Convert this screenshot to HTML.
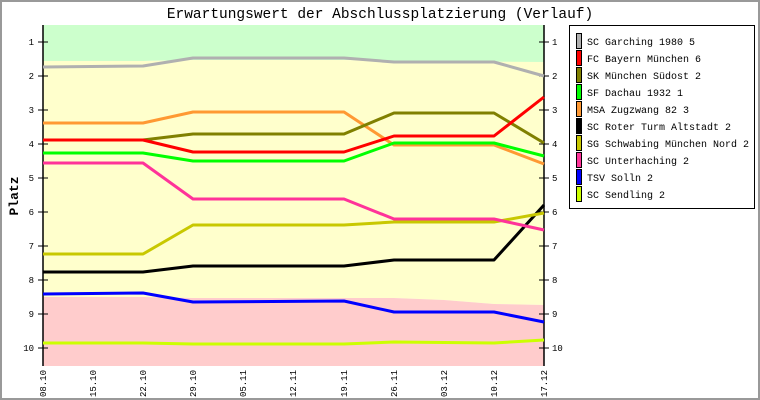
<!DOCTYPE html>
<html><head><meta charset="utf-8"><style>
html,body{margin:0;padding:0;background:#fff;}
svg{display:block;}
text{font-family:"Liberation Mono","DejaVu Sans Mono",monospace;}
</style></head><body>
<svg width="760" height="400" viewBox="0 0 760 400" xmlns="http://www.w3.org/2000/svg">
<rect x="1" y="1" width="758" height="398" fill="#fff" stroke="#999" stroke-width="2"/>
<text x="380" y="18" text-anchor="middle" font-size="14.5">Erwartungswert der Abschlussplatzierung (Verlauf)</text>
<polygon points="43,25 544,25 544,62 494,62 444,62 394,61 344,60 193,60 143,61 43,61" fill="#ccffcc"/>
<polygon points="43,61 143,61 193,60 344,60 394,61 544,62 544,305 494,304 444,300 394,298 344,298 193,298 143,297 43,297" fill="#ffffcc"/>
<polygon points="43,297 143,297 193,298 344,298 394,298 444,300 494,304 544,305 544,366 43,366" fill="#ffcccc"/>
<line x1="43" y1="25" x2="43" y2="366" stroke="#000" stroke-width="1.5"/>
<line x1="544" y1="25" x2="544" y2="366" stroke="#000" stroke-width="1.5"/>
<g stroke="#000" stroke-width="1">
<path d="M38,42H48M38,76H48M38,110H48M38,144H48M38,178H48M38,212H48M38,246H48M38,280H48M38,314H48M38,348H48"/>
<path d="M539,42H549M539,76H549M539,110H549M539,144H549M539,178H549M539,212H549M539,246H549M539,280H549M539,314H549M539,348H549"/>
</g>
<g font-size="9" text-anchor="end">
<text x="34" y="45">1</text><text x="34" y="79">2</text><text x="34" y="113">3</text><text x="34" y="147">4</text><text x="34" y="181">5</text><text x="34" y="215">6</text><text x="34" y="249">7</text><text x="34" y="283">8</text><text x="34" y="317">9</text><text x="34" y="351">10</text>
</g>
<g font-size="9" text-anchor="start">
<text x="552" y="45">1</text><text x="552" y="79">2</text><text x="552" y="113">3</text><text x="552" y="147">4</text><text x="552" y="181">5</text><text x="552" y="215">6</text><text x="552" y="249">7</text><text x="552" y="283">8</text><text x="552" y="317">9</text><text x="552" y="351">10</text>
</g>
<text transform="translate(18,196) rotate(-90)" text-anchor="middle" font-size="13" font-weight="bold">Platz</text>
<g font-size="9" text-anchor="end">
<text transform="translate(46,370) rotate(-90)">08.10</text>
<text transform="translate(96,370) rotate(-90)">15.10</text>
<text transform="translate(146,370) rotate(-90)">22.10</text>
<text transform="translate(196,370) rotate(-90)">29.10</text>
<text transform="translate(246,370) rotate(-90)">05.11</text>
<text transform="translate(296,370) rotate(-90)">12.11</text>
<text transform="translate(347,370) rotate(-90)">19.11</text>
<text transform="translate(397,370) rotate(-90)">26.11</text>
<text transform="translate(447,370) rotate(-90)">03.12</text>
<text transform="translate(497,370) rotate(-90)">10.12</text>
<text transform="translate(547,370) rotate(-90)">17.12</text>
</g>
<g fill="none" stroke-width="3" stroke-linejoin="round">
<polyline stroke="#b0b0b0" points="43,67 143,66 193,58 344,58 394,62 494,62 544,76"/>
<polyline stroke="#ccff00" points="43,343 143,343 193,344 344,344 394,342 494,343 544,340"/>
<polyline stroke="#0000ff" points="43,294 143,293 193,302 344,301 394,312 494,312 544,322"/>
<polyline stroke="#000000" points="43,272 143,272 193,266 344,266 394,260 494,260 544,205"/>
<polyline stroke="#c8c800" points="43,254 143,254 193,225 344,225 394,222 494,222 544,213"/>
<polyline stroke="#ff3399" points="43,163 143,163 193,199 344,199 394,219 494,219 544,230"/>
<polyline stroke="#ff9933" points="43,123 143,123 193,112 344,112 394,145 494,145 544,164"/>
<polyline stroke="#00ff00" points="43,153 143,153 193,161 344,161 394,143 494,143 544,156"/>
<polyline stroke="#808000" points="43,140 143,140 193,134 344,134 394,113 494,113 544,143"/>
<polyline stroke="#ff0000" points="43,140 143,140 193,152 344,152 394,136 494,136 544,97"/>
</g>
<rect x="569.5" y="25.5" width="185" height="183" fill="#fff" stroke="#000"/>
<g stroke="#000" stroke-width="1">
<rect x="576.5" y="33.5" width="5" height="15" fill="#b0b0b0"/>
<rect x="576.5" y="50.5" width="5" height="15" fill="#ff0000"/>
<rect x="576.5" y="67.5" width="5" height="15" fill="#808000"/>
<rect x="576.5" y="84.5" width="5" height="15" fill="#00ff00"/>
<rect x="576.5" y="101.5" width="5" height="15" fill="#ff9933"/>
<rect x="576.5" y="118.5" width="5" height="15" fill="#000000"/>
<rect x="576.5" y="135.5" width="5" height="15" fill="#c8c800"/>
<rect x="576.5" y="152.5" width="5" height="15" fill="#ff3399"/>
<rect x="576.5" y="169.5" width="5" height="15" fill="#0000ff"/>
<rect x="576.5" y="186.5" width="5" height="15" fill="#ccff00"/>
</g>
<g font-size="10">
<text x="587" y="45">SC Garching 1980 5</text>
<text x="587" y="62">FC Bayern München 6</text>
<text x="587" y="79">SK München Südost 2</text>
<text x="587" y="96">SF Dachau 1932 1</text>
<text x="587" y="113">MSA Zugzwang 82 3</text>
<text x="587" y="130">SC Roter Turm Altstadt 2</text>
<text x="587" y="147">SG Schwabing München Nord 2</text>
<text x="587" y="164">SC Unterhaching 2</text>
<text x="587" y="181">TSV Solln 2</text>
<text x="587" y="198">SC Sendling 2</text>
</g>
</svg>
</body></html>
